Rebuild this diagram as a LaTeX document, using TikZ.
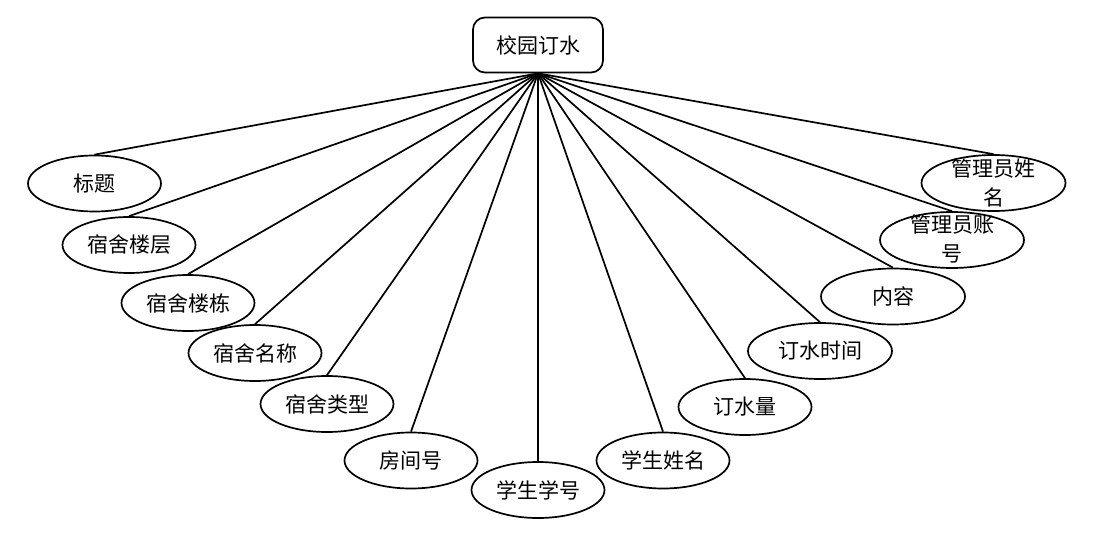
\documentclass[tikz,border=0pt]{standalone}
\usepackage{fontspec}
\setmainfont{Noto Sans CJK SC}
\usetikzlibrary{shapes.geometric}
\tikzset{
  attr/.style={draw, line width=1.7pt, ellipse, inner sep=0pt, minimum width=133pt, minimum height=56pt, font=\fontsize{21}{25}\selectfont},
  wideattr/.style={attr, minimum width=144pt},
  twoline/.style={align=center, font=\fontsize{21}{29}\selectfont, inner sep=0pt},
  ent/.style={draw, line width=1.7pt, rounded corners=12pt, minimum width=130pt, minimum height=55pt, inner sep=0pt, font=\fontsize{21}{25}\selectfont},
  conn/.style={line width=1.7pt}
}
\begin{document}
\begin{tikzpicture}[x=1pt,y=-1pt]
\useasboundingbox (0,0) rectangle (1100,548);
\node[ent] (root) at (538,45) {校园订水};
\node[attr] (a1) at (94.5,183.5) {标题};
\node[attr] (a2) at (129,245) {宿舍楼层};
\node[attr] (a3) at (188,303) {宿舍楼栋};
\node[attr] (a4) at (255,353) {宿舍名称};
\node[attr] (a5) at (327,404) {宿舍类型};
\node[attr] (a6) at (411,460.5) {房间号};
\node[attr] (a7) at (538,490) {学生学号};
\node[attr] (a8) at (663,460.5) {学生姓名};
\node[attr] (a9) at (745,407) {订水量};
\node[wideattr] (a10) at (820,351) {订水时间};
\node[wideattr] (a11) at (893,296.5) {内容};
\node[wideattr] (a12) at (952,240) {};
\node[twoline] (t12) at (952,239) {管理员账\\号};
\node[wideattr] (a13) at (993.5,183) {};
\node[twoline] (t13) at (993.5,182.5) {管理员姓\\名};
\foreach \n in {a1,a2,a3,a4,a5,a6,a7,a8,a9,a10,a11,a12,a13}
  \draw[conn] (root.south) -- (\n.north);
\end{tikzpicture}
\end{document}
